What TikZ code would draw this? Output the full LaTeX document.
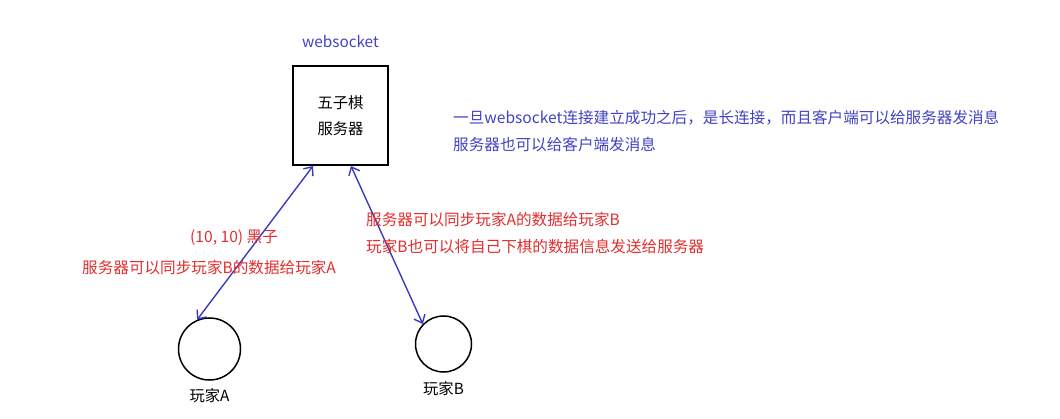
\documentclass[tikz,border=0pt]{standalone}
\usepackage{fontspec}
\setmainfont{Noto Sans CJK SC}
\usetikzlibrary{positioning,arrows.meta}
\definecolor{wsblue}{RGB}{66,66,196}
\definecolor{linkblue}{RGB}{58,58,190}
\definecolor{msgred}{RGB}{226,46,46}
\tikzset{>={Straight Barb[length=7pt,width=12pt]}}
\tikzstyle{player}=[circle,draw,line width=1.5pt,inner sep=0pt]
\tikzstyle{note}=[inner sep=0pt,anchor=west,align=left,font=\fontsize{15.6}{27}\selectfont]

\begin{document}
\begin{tikzpicture}[x=1pt,y=-1pt,
  node distance=6pt,
  server/.style={draw,line width=2pt,minimum width=95pt,minimum height=99pt,
                 align=center,font=\fontsize{15.3}{26}\selectfont},
  link/.style={<->,linkblue,line width=1.4pt},
  tag/.style={inner sep=0pt,font=\fontsize{15.3}{18}\selectfont}
]
\useasboundingbox (0,0) rectangle (1060,419);

% server and players
\node[server] (srv) at (340.5,115.5) {五子棋\\服务器};
\node[tag,wsblue,above=17pt of srv] (ws) {websocket};
\node[player,minimum size=62pt] (pa) at (209.5,349) {};
\node[player,minimum size=56pt] (pb) at (443.5,344) {};
\node[tag,below=8pt of pa] (la) {玩家A};
\node[tag,below=9pt of pb] (lb) {玩家B};

% connections
\draw[link] ([xshift=21pt]srv.south west) -- (pa.113);
\draw[link] ([xshift=59pt]srv.south west) -- (pb.136);

% notes
\node[note,wsblue] (info) at (453,131.5) {一旦websocket连接建立成功之后，是长连接，而且客户端可以给服务器发消息\\服务器也可以给客户端发消息};
\node[note,msgred] (syncb) at (366,233.5) {服务器可以同步玩家A的数据给玩家B\\玩家B也可以将自己下棋的数据信息发送给服务器};
\node[note,msgred] (move) at (190,238) {(10, 10) 黑子};
\node[note,msgred] (synca) at (82,268) {服务器可以同步玩家B的数据给玩家A};
\end{tikzpicture}
\end{document}
